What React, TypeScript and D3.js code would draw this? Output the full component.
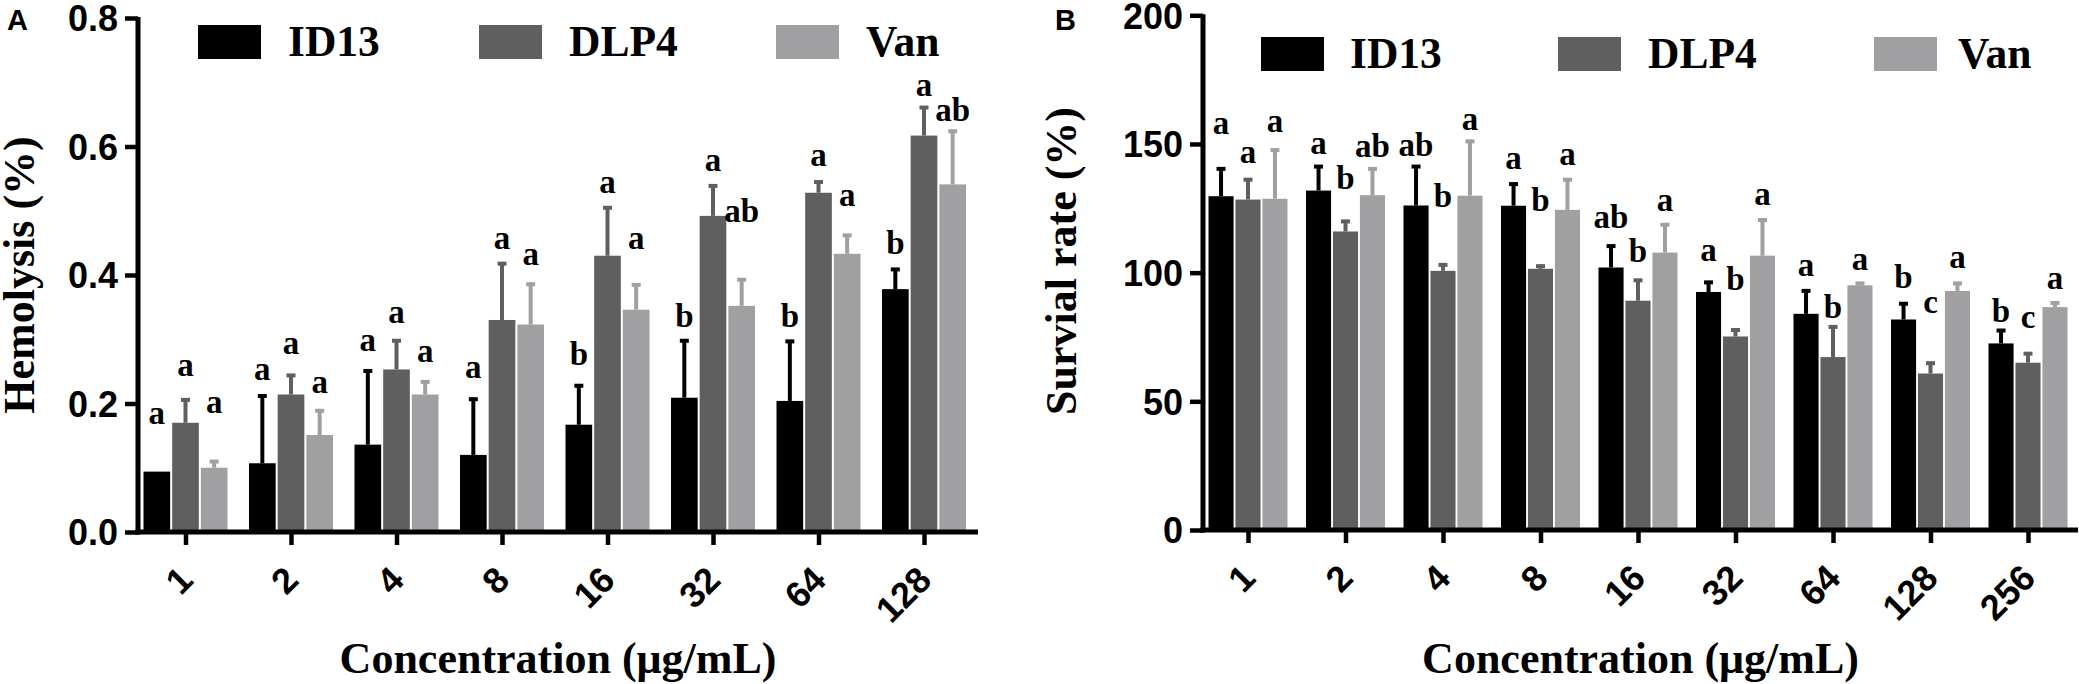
import React, { useEffect, useRef } from 'react';
import * as d3 from 'd3';

// series shared by both panels
const seriesNames = ['ID13', 'DLP4', 'Van'];
const seriesColors = ['#000000', '#5f5f5f', '#a0a0a3'];

// Panel A: hemolysis (%)
const hemoConc = ['1', '2', '4', '8', '16', '32', '64', '128'];
const hemoID13 = [0.094, 0.107, 0.136, 0.120, 0.167, 0.209, 0.204, 0.378];
const hemoDLP4 = [0.170, 0.214, 0.253, 0.330, 0.430, 0.492, 0.528, 0.617];
const hemoVan = [0.100, 0.151, 0.214, 0.323, 0.346, 0.352, 0.433, 0.541];
const hemoID13Sd = [0, 0.107, 0.117, 0.089, 0.063, 0.091, 0.095, 0.033];
const hemoDLP4Sd = [0.038, 0.032, 0.047, 0.090, 0.077, 0.049, 0.019, 0.046];
const hemoVanSd = [0.012, 0.040, 0.022, 0.065, 0.041, 0.043, 0.031, 0.085];
const hemoID13Sig = ['a', 'a', 'a', 'a', 'b', 'b', 'b', 'b'];
const hemoDLP4Sig = ['a', 'a', 'a', 'a', 'a', 'a', 'a', 'a'];
const hemoVanSig = ['a', 'a', 'a', 'a', 'a', 'ab', 'a', 'ab'];
// where the letters sit, in data units
const hemoID13SigAt = [0.168, 0.236, 0.281, 0.240, 0.260, 0.319, 0.319, 0.433];
const hemoDLP4SigAt = [0.243, 0.277, 0.325, 0.441, 0.528, 0.562, 0.569, 0.678];
const hemoVanSigAt = [0.185, 0.216, 0.264, 0.416, 0.441, 0.483, 0.508, 0.640];
const hemoTicks = [0, 0.2, 0.4, 0.6, 0.8];

// Panel B: survival rate (%)
const survConc = ['1', '2', '4', '8', '16', '32', '64', '128', '256'];
const survID13 = [129.7, 131.9, 126.1, 126.0, 102.0, 92.5, 84.0, 81.8, 72.5];
const survDLP4 = [128.4, 116.0, 100.7, 101.5, 89.1, 75.2, 67.2, 60.8, 65.0];
const survVan = [128.7, 130.1, 129.9, 124.4, 107.8, 106.6, 95.1, 92.9, 86.6];
const survID13Sd = [11.2, 9.9, 15.7, 9.0, 8.9, 4.3, 9.5, 6.7, 5.6];
const survDLP4Sd = [8.3, 4.5, 2.9, 1.6, 8.5, 3.1, 12.3, 4.6, 4.1];
const survVanSd = [19.5, 10.8, 21.7, 12.3, 11.4, 14.4, 1.3, 3.5, 2.2];
const survID13Sig = ['a', 'a', 'ab', 'a', 'ab', 'a', 'a', 'b', 'b'];
const survDLP4Sig = ['a', 'b', 'b', 'b', 'b', 'b', 'b', 'c', 'c'];
const survVanSig = ['a', 'ab', 'a', 'a', 'a', 'a', 'a', 'a', 'a'];
const survID13SigAt = [153.8, 146.2, 145.3, 140.2, 117.3, 104.6, 98.6, 93.9, 80.8];
const survDLP4SigAt = [142.8, 132.6, 125.5, 124.1, 104.1, 93.2, 82.5, 84.2, 78.3];
const survVanSigAt = [154.7, 144.8, 155.5, 141.9, 124.1, 126.1, 101.2, 102.0, 93.5];
const survTicks = [0, 50, 100, 150, 200];

const SERIF = '"Liberation Serif", "Times New Roman", serif';
const SANS = '"Liberation Sans", Arial, sans-serif';

interface Panel {
  letter: string;
  conc: string[];
  means: number[][];
  sds: number[][];
  sig: string[][];
  sigAt: number[][];
  yDomain: [number, number];
  yTicks: number[];
  yFormat: (d: number) => string;
  yTitle: string;
  // layout
  left: number;
  right: number;
  top: number;
  bottom: number;
  firstTick: number;
  lastTick: number;
  groupW: number;
  letterX: number;
  yTitleX: number;
  yTitleY: number;
  legendBoxX: number[];
  legendTextX: number[];
  legendY: number;
}

const panels: Panel[] = [
  {
    letter: 'A',
    conc: hemoConc,
    means: [hemoID13, hemoDLP4, hemoVan],
    sds: [hemoID13Sd, hemoDLP4Sd, hemoVanSd],
    sig: [hemoID13Sig, hemoDLP4Sig, hemoVanSig],
    sigAt: [hemoID13SigAt, hemoDLP4SigAt, hemoVanSigAt],
    yDomain: [0, 0.8],
    yTicks: hemoTicks,
    yFormat: d3.format('.1f'),
    yTitle: 'Hemolysis (%)',
    left: 138, right: 978, top: 18, bottom: 532,
    firstTick: 185.5, lastTick: 924, groupW: 84,
    letterX: 7, yTitleX: 34, yTitleY: 275,
    legendBoxX: [198, 479, 776], legendTextX: [288, 569, 866], legendY: 25,
  },
  {
    letter: 'B',
    conc: survConc,
    means: [survID13, survDLP4, survVan],
    sds: [survID13Sd, survDLP4Sd, survVanSd],
    sig: [survID13Sig, survDLP4Sig, survVanSig],
    sigAt: [survID13SigAt, survDLP4SigAt, survVanSigAt],
    yDomain: [0, 200],
    yTicks: survTicks,
    yFormat: d3.format('d'),
    yTitle: 'Survial rate (%)',
    left: 1203, right: 2078, top: 15.3, bottom: 530,
    firstTick: 1248, lastTick: 2028, groupW: 79,
    letterX: 1055, yTitleX: 1076, yTitleY: 261,
    legendBoxX: [1261, 1558, 1874], legendTextX: [1350, 1648, 1958], legendY: 37,
  },
];

function drawPanel(root: d3.Selection<SVGSVGElement, unknown, null, undefined>, p: Panel) {
  const g = root.append('g');

  const x = d3.scalePoint<string>().domain(p.conc).range([p.firstTick, p.lastTick]);
  const inner = d3.scaleBand<string>()
    .domain(seriesNames)
    .range([-p.groupW / 2, p.groupW / 2])
    .paddingInner(0.07);
  const y = d3.scaleLinear().domain(p.yDomain).range([p.bottom, p.top]);
  const bw = inner.bandwidth();

  seriesNames.forEach((s, si) => {
    const color = seriesColors[si];
    const rows = p.conc.map((c, i) => ({
      c, m: p.means[si][i], sd: p.sds[si][i], sig: p.sig[si][i], at: p.sigAt[si][i],
    }));
    const left = (d: { c: string }) => x(d.c)! + inner(s)!;
    const mid = (d: { c: string }) => left(d) + bw / 2;

    g.append('g').selectAll('rect')
      .data(rows)
      .join('rect')
      .attr('x', left)
      .attr('y', d => y(d.m))
      .attr('width', bw)
      .attr('height', d => y(0) - y(d.m))
      .attr('fill', color);

    // error bars, upper half only
    const err = g.append('g').selectAll('g')
      .data(rows.filter(d => d.sd > 0))
      .join('g');
    err.append('line')
      .attr('x1', mid).attr('x2', mid)
      .attr('y1', d => y(d.m))
      .attr('y2', d => y(d.m + d.sd))
      .attr('stroke', color)
      .attr('stroke-width', 4);
    err.append('line')
      .attr('x1', d => mid(d) - 4.5).attr('x2', d => mid(d) + 4.5)
      .attr('y1', d => y(d.m + d.sd) + 1.5)
      .attr('y2', d => y(d.m + d.sd) + 1.5)
      .attr('stroke', color)
      .attr('stroke-width', 4);

    g.append('g').selectAll('text')
      .data(rows)
      .join('text')
      .attr('x', mid)
      .attr('y', d => y(d.at))
      .attr('text-anchor', 'middle')
      .style('font-family', SERIF)
      .style('font-weight', 'bold')
      .style('font-size', '33px')
      .attr('fill', '#000')
      .text(d => d.sig);
  });

  // y axis
  const yAxis = g.append('g')
    .attr('transform', `translate(${p.left},0)`)
    .call(d3.axisLeft(y).tickValues(p.yTicks).tickFormat(d => p.yFormat(d as number)).tickSize(13).tickPadding(7));
  yAxis.select('.domain').remove();
  yAxis.selectAll('line').attr('stroke', '#000').attr('stroke-width', 4.5);
  yAxis.selectAll('text')
    .attr('fill', '#000')
    .attr('dy', '0.36em')
    .style('font-family', SANS)
    .style('font-weight', 'bold')
    .style('font-size', '36px');

  // x axis
  const xAxis = g.append('g')
    .attr('transform', `translate(0,${p.bottom})`)
    .call(d3.axisBottom(x).tickSize(13).tickSizeOuter(0));
  xAxis.select('.domain').remove();
  xAxis.selectAll('line').attr('stroke', '#000').attr('stroke-width', 4.5);
  xAxis.selectAll('text')
    .attr('x', 0)
    .attr('y', 0)
    .attr('dy', null)
    .attr('text-anchor', 'end')
    .attr('transform', 'translate(9,50) rotate(-45)')
    .attr('fill', '#000')
    .style('font-family', SANS)
    .style('font-weight', 'bold')
    .style('font-size', '36px');

  // axis lines
  g.append('line')
    .attr('x1', p.left).attr('x2', p.left)
    .attr('y1', p.top - 1).attr('y2', p.bottom + 2.5)
    .attr('stroke', '#000').attr('stroke-width', 5);
  g.append('line')
    .attr('x1', p.left - 2.5).attr('x2', p.right)
    .attr('y1', p.bottom).attr('y2', p.bottom)
    .attr('stroke', '#000').attr('stroke-width', 5);

  // titles
  g.append('text')
    .attr('transform', `translate(${p.yTitleX},${p.yTitleY}) rotate(-90)`)
    .attr('text-anchor', 'middle')
    .style('font-family', SERIF)
    .style('font-weight', 'bold')
    .style('font-size', '44px')
    .text(p.yTitle);

  g.append('text')
    .attr('x', (p.left + p.right) / 2)
    .attr('y', 673)
    .attr('text-anchor', 'middle')
    .style('font-family', SERIF)
    .style('font-weight', 'bold')
    .style('font-size', '44px')
    .text('Concentration (μg/mL)');

  g.append('text')
    .attr('x', p.letterX)
    .attr('y', 30)
    .style('font-family', SANS)
    .style('font-weight', 'bold')
    .style('font-size', '29px')
    .text(p.letter);

  // legend
  seriesNames.forEach((s, si) => {
    g.append('rect')
      .attr('x', p.legendBoxX[si])
      .attr('y', p.legendY)
      .attr('width', 63)
      .attr('height', 34)
      .attr('fill', seriesColors[si]);
    g.append('text')
      .attr('x', p.legendTextX[si])
      .attr('y', p.legendY + 31)
      .style('font-family', SERIF)
      .style('font-weight', 'bold')
      .style('font-size', '43.5px')
      .text(s);
  });
}

export default function App() {
  const ref = useRef<SVGSVGElement | null>(null);

  useEffect(() => {
    if (!ref.current) return;
    const svg = d3.select(ref.current);
    svg.selectAll('*').remove();
    panels.forEach(p => drawPanel(svg, p));
  }, []);

  return (
    <div style={{ position: 'absolute', left: 0, top: 0, background: '#fff' }}>
      <svg ref={ref} width={2079} height={684} style={{ display: 'block', background: '#fff' }} />
    </div>
  );
}
